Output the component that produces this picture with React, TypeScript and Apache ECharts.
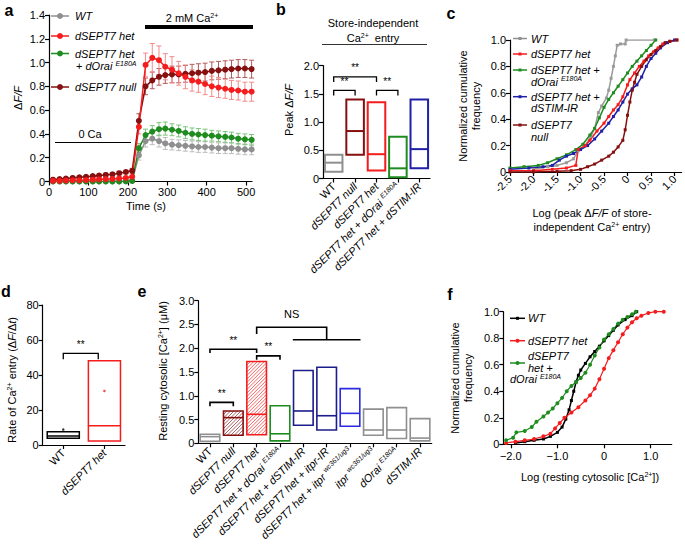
import React, { useEffect, useRef } from 'react';
import * as echarts from 'echarts';

const FONT = '"Liberation Sans", Arial, Helvetica, sans-serif';
const GRAY = '#8f8f8f';
const RED = '#f41c1c';
const DKRED = '#851010';
const GREEN = '#1e8c1e';
const BLUE = '#2020a8';
const NAVY = '#1c1c8c';
const BLUE2 = '#2a2ae0';

// ---------- panel a ----------
const TIME_S = [10, 27, 43, 60, 77, 94, 111, 127, 144, 161, 178, 195, 211, 228, 245, 262, 279, 295, 312, 329, 346, 363, 379, 396, 413, 430, 447, 463, 480, 497, 514];
const A_WT = [0, 0, 0, 0, 0, 0, 0, 0, 0, 0, 0, 0, 0.005, 0.22, 0.34, 0.36, 0.34, 0.32, 0.31, 0.305, 0.3, 0.295, 0.29, 0.29, 0.285, 0.28, 0.28, 0.28, 0.275, 0.27, 0.27];
const A_WT_ERR = [0.005, 0.005, 0.005, 0.005, 0.005, 0.005, 0.005, 0.005, 0.005, 0.005, 0.005, 0.005, 0.005, 0.04, 0.05, 0.05, 0.05, 0.05, 0.045, 0.045, 0.045, 0.045, 0.045, 0.045, 0.045, 0.045, 0.045, 0.045, 0.045, 0.045, 0.045];
const A_HET = [0.005, 0.005, 0.008, 0.01, 0.01, 0.012, 0.015, 0.018, 0.02, 0.022, 0.026, 0.03, 0.04, 0.46, 0.98, 1.04, 1.02, 0.965, 0.94, 0.91, 0.88, 0.85, 0.84, 0.82, 0.8, 0.79, 0.78, 0.77, 0.765, 0.755, 0.755];
const A_HET_ERR = [0.01, 0.01, 0.01, 0.01, 0.01, 0.01, 0.01, 0.01, 0.01, 0.01, 0.01, 0.01, 0.01, 0.06, 0.1, 0.12, 0.12, 0.11, 0.11, 0.1, 0.1, 0.09, 0.09, 0.09, 0.085, 0.085, 0.08, 0.08, 0.08, 0.08, 0.08];
const A_ORAI = [0, 0, 0, 0, 0, 0, 0, 0, 0, 0, 0, 0.002, 0.005, 0.28, 0.39, 0.42, 0.44, 0.445, 0.435, 0.425, 0.41, 0.4, 0.395, 0.39, 0.385, 0.38, 0.375, 0.37, 0.36, 0.355, 0.35];
const A_ORAI_ERR = [0.005, 0.005, 0.005, 0.005, 0.005, 0.005, 0.005, 0.005, 0.005, 0.005, 0.005, 0.005, 0.005, 0.04, 0.05, 0.05, 0.055, 0.055, 0.05, 0.05, 0.05, 0.05, 0.05, 0.05, 0.045, 0.045, 0.045, 0.045, 0.045, 0.045, 0.045];
const A_NULL = [0.015, 0.02, 0.025, 0.03, 0.035, 0.04, 0.045, 0.05, 0.055, 0.06, 0.07, 0.08, 0.09, 0.51, 0.8, 0.85, 0.88, 0.895, 0.9, 0.9, 0.905, 0.91, 0.915, 0.92, 0.93, 0.935, 0.94, 0.945, 0.95, 0.95, 0.945];
const A_NULL_ERR = [0.01, 0.01, 0.01, 0.01, 0.01, 0.012, 0.012, 0.012, 0.015, 0.015, 0.015, 0.015, 0.02, 0.06, 0.07, 0.07, 0.07, 0.07, 0.07, 0.07, 0.07, 0.075, 0.075, 0.075, 0.075, 0.075, 0.075, 0.075, 0.075, 0.075, 0.075];

// ---------- panel b ----------
const B_CATS = ['WT', 'dSEPT7 null', 'dSEPT7 het', 'dSEPT7 het + dOrai E180A', 'dSEPT7 het + dSTIM-IR'];
const B_MIN = [0.12, 0.42, 0.14, 0.02, 0.18];
const B_MED = [0.28, 0.84, 0.43, 0.18, 0.52];
const B_MAX = [0.42, 1.4, 1.35, 0.74, 1.4];
const B_COLORS = [GRAY, DKRED, RED, GREEN, BLUE];
const B_BRACKETS = [[0, 1, 1.56, 1.47, 1.47], [0, 2, 1.8, 1.71, 1.71], [2, 3, 1.56, 1.47, 1.47]];
const B_BRACKET_LABELS = ['**', '**', '**'];

// ---------- panel c ----------
const C_WT = [[-2.0, 0.02], [-1.7, 0.04], [-1.5, 0.05], [-1.3, 0.07], [-1.15, 0.1], [-1.05, 0.16], [-0.9, 0.2], [-0.78, 0.27], [-0.7, 0.33], [-0.62, 0.45], [-0.55, 0.5], [-0.45, 0.56], [-0.4, 0.62], [-0.35, 0.71], [-0.3, 0.8], [-0.26, 0.88], [-0.22, 0.96], [-0.15, 0.97], [-0.05, 0.97], [-0.03, 1.0], [0.57, 1.0]];
const C_HET = [[-2.5, 0.01], [-2.0, 0.01], [-1.6, 0.02], [-1.3, 0.03], [-1.1, 0.05], [-1.05, 0.17], [-0.9, 0.2], [-0.8, 0.24], [-0.65, 0.31], [-0.5, 0.37], [-0.4, 0.42], [-0.3, 0.47], [-0.2, 0.51], [-0.1, 0.57], [0.0, 0.66], [0.05, 0.7], [0.15, 0.75], [0.25, 0.8], [0.35, 0.84], [0.45, 0.88], [0.55, 0.91], [0.65, 0.94], [0.75, 0.97], [0.9, 0.99], [1.05, 1.0]];
const C_ORAI = [[-2.5, 0.03], [-2.2, 0.04], [-1.9, 0.05], [-1.7, 0.07], [-1.5, 0.1], [-1.3, 0.13], [-1.1, 0.17], [-0.95, 0.21], [-0.8, 0.28], [-0.7, 0.33], [-0.6, 0.41], [-0.5, 0.49], [-0.4, 0.55], [-0.3, 0.6], [-0.2, 0.65], [-0.1, 0.7], [0.0, 0.75], [0.1, 0.8], [0.2, 0.84], [0.3, 0.88], [0.4, 0.92], [0.5, 0.96], [0.6, 1.0]];
const C_STIM = [[-2.5, 0.02], [-2.1, 0.03], [-1.8, 0.04], [-1.6, 0.05], [-1.45, 0.09], [-1.3, 0.12], [-1.15, 0.14], [-1.0, 0.17], [-0.85, 0.2], [-0.7, 0.25], [-0.55, 0.31], [-0.4, 0.37], [-0.3, 0.42], [-0.2, 0.47], [-0.1, 0.53], [0.0, 0.59], [0.1, 0.63], [0.2, 0.66], [0.3, 0.72], [0.4, 0.8], [0.5, 0.86], [0.6, 0.9], [0.7, 0.94], [0.85, 0.98], [1.0, 1.0]];
const C_NULL = [[-2.5, 0.0], [-2.0, 0.0], [-1.5, 0.005], [-1.2, 0.01], [-1.0, 0.02], [-0.85, 0.04], [-0.7, 0.06], [-0.55, 0.09], [-0.4, 0.12], [-0.3, 0.15], [-0.2, 0.19], [-0.1, 0.24], [-0.05, 0.32], [0.0, 0.43], [0.05, 0.53], [0.1, 0.62], [0.15, 0.68], [0.2, 0.74], [0.3, 0.8], [0.4, 0.85], [0.5, 0.89], [0.6, 0.92], [0.7, 0.95], [0.8, 0.98], [0.9, 0.99], [1.05, 1.0]];

// ---------- panel d ----------
const D_CATS = ['WT', 'dSEPT7 het'];
const D_MIN = [3.8, 2.3];
const D_MED = [5.1, 11];
const D_MAX = [7.6, 48.2];
const D_MEAN = [8.8, 30.9];
const D_COLORS = ['#000000', RED];
const D_BRACKETS = [[0, 0.85, 52.4, 49, 49]];
const D_BRACKET_LABELS = ['**'];

// ---------- panel e ----------
const E_CATS = ['WT', 'dSEPT7 null', 'dSEPT7 het', 'dSEPT7 het + dOrai E180A', 'dSEPT7 het + dSTIM-IR', 'dSEPT7 het + itpr-IR', 'dSEPT7 het + itpr wc361/ug3', 'itpr wc361/ug3', 'dOrai E180A', 'dSTIM-IR'];
const E_MIN = [0.04, 0.17, 0.18, 0.05, 0.38, 0.28, 0.36, 0.17, 0.1, 0.05];
const E_MED = [0.14, 0.54, 0.61, 0.2, 0.68, 0.58, 0.63, 0.28, 0.28, 0.11];
const E_MAX = [0.19, 0.68, 1.72, 0.79, 1.53, 1.6, 1.15, 0.72, 0.75, 0.52];
const E_COLORS = [GRAY, DKRED, RED, GREEN, NAVY, NAVY, BLUE2, GRAY, GRAY, GRAY];
const E_HATCH = [false, true, true, false, false, false, false, false, false, false];
const E_BRACKETS = [[0, 1, 0.86, 0.78, 0.78], [0, 2, 1.98, 1.9, 1.9], [2, 3, 1.84, 1.76, 1.76], [2, 5, 2.44, 2.3, 2.18], [3.55, 6.45, 2.18, 2.18, 2.18]];
const E_BRACKET_LABELS = ['**', '**', '**', 'NS', ''];

// ---------- panel f ----------
const F_WT = [[-1.9, 0.01], [-1.7, 0.02], [-1.5, 0.03], [-1.3, 0.04], [-1.15, 0.06], [-1.0, 0.09], [-0.9, 0.13], [-0.82, 0.19], [-0.75, 0.26], [-0.7, 0.33], [-0.65, 0.4], [-0.6, 0.47], [-0.55, 0.52], [-0.5, 0.56], [-0.4, 0.61], [-0.3, 0.66], [-0.2, 0.7], [-0.1, 0.74], [0.0, 0.78], [0.1, 0.82], [0.2, 0.86], [0.3, 0.9], [0.45, 0.94], [0.6, 0.97], [0.7, 1.0]];
const F_HET = [[-2.1, 0.01], [-1.9, 0.02], [-1.7, 0.03], [-1.5, 0.04], [-1.3, 0.06], [-1.15, 0.08], [-1.05, 0.12], [-0.95, 0.16], [-0.85, 0.2], [-0.7, 0.24], [-0.55, 0.28], [-0.4, 0.33], [-0.3, 0.37], [-0.2, 0.42], [-0.1, 0.49], [0.0, 0.57], [0.1, 0.65], [0.2, 0.71], [0.3, 0.77], [0.4, 0.83], [0.5, 0.88], [0.6, 0.92], [0.7, 0.95], [0.8, 0.97], [0.95, 0.99], [1.1, 1.0], [1.28, 1.0]];
const F_ORAI = [[-2.1, 0.03], [-1.95, 0.05], [-1.88, 0.09], [-1.7, 0.1], [-1.55, 0.13], [-1.45, 0.17], [-1.3, 0.21], [-1.2, 0.24], [-1.1, 0.27], [-1.0, 0.31], [-0.9, 0.35], [-0.8, 0.4], [-0.7, 0.44], [-0.6, 0.47], [-0.5, 0.5], [-0.4, 0.54], [-0.3, 0.6], [-0.2, 0.67], [-0.1, 0.73], [0.0, 0.79], [0.1, 0.83], [0.2, 0.87], [0.3, 0.91], [0.4, 0.94], [0.5, 0.96], [0.6, 0.98], [0.68, 1.0]];

// ---------- helpers ----------
const RICH: any = {
  n: { fontFamily: FONT, fontSize: 11, color: '#000', lineHeight: 13 },
  i: { fontFamily: FONT, fontSize: 11, fontStyle: 'italic', color: '#000', lineHeight: 13 },
  s: { fontFamily: FONT, fontSize: 7, fontStyle: 'italic', color: '#000', verticalAlign: 'top' },
  u: { fontFamily: FONT, fontSize: 7, color: '#000', verticalAlign: 'top' },
  b: { fontFamily: FONT, fontSize: 16, fontWeight: 'bold', color: '#000' },
};

function catRich(label: string) {
  if (label === 'WT') return '{n|WT}';
  const m = label.match(/^(.*?)\s(E180A|wc361\/ug3)$/);
  if (m) return `{i|${m[1]} }{s|${m[2]}}`;
  return `{i|${label}}`;
}

const fmt1 = (v: number) => (v === 0 ? '0' : v.toFixed(1));

const axisLine = { show: true, onZero: false, lineStyle: { color: '#000', width: 1.2 } };
const axisTick = { show: true, length: 4, lineStyle: { color: '#000', width: 1.2 } };
const labelBase = { color: '#000', fontSize: 11, fontFamily: FONT, margin: 4 };

function valueY(grid: number, max: number, interval: number, fmt: any) {
  return {
    type: 'value', gridIndex: grid, min: 0, max, interval,
    axisLine, axisTick, splitLine: { show: false },
    axisLabel: { ...labelBase, formatter: fmt },
  };
}

function catX(grid: number, cats: string[]) {
  return {
    type: 'category', gridIndex: grid, data: cats,
    axisLine, axisTick: { ...axisTick, alignWithLabel: true },
    splitLine: { show: false },
    axisLabel: { ...labelBase, rotate: 45, interval: 0, margin: 6, formatter: (v: string) => catRich(v), rich: RICH },
  };
}

function lineSeries(x: number, y: number, data: any[], color: string, symbol: string, size: number, width: number) {
  return {
    type: 'line', xAxisIndex: x, yAxisIndex: y, data,
    symbol, symbolSize: size, showSymbol: true, showAllSymbol: true,
    lineStyle: { color, width }, itemStyle: { color, borderWidth: 0 },
    emphasis: { disabled: true }, silent: true,
  };
}

function errSeries(vals: number[], errs: number[], color: string) {
  return {
    type: 'custom', xAxisIndex: 0, yAxisIndex: 0, silent: true,
    data: TIME_S.map((t, i) => [t, vals[i] - errs[i], vals[i] + errs[i]]),
    encode: { x: 0, y: [1, 2] },
    renderItem: (params: any, api: any) => {
      const lo = api.coord([api.value(0), api.value(1)]);
      const hi = api.coord([api.value(0), api.value(2)]);
      const c = 2.5;
      const st = { stroke: color, lineWidth: 1 };
      return {
        type: 'group', children: [
          { type: 'line', shape: { x1: lo[0], y1: lo[1], x2: hi[0], y2: hi[1] }, style: st },
          { type: 'line', shape: { x1: lo[0] - c, y1: lo[1], x2: lo[0] + c, y2: lo[1] }, style: st },
          { type: 'line', shape: { x1: hi[0] - c, y1: hi[1], x2: hi[0] + c, y2: hi[1] }, style: st },
        ],
      };
    },
  };
}

function boxSeries(axis: number, mins: number[], meds: number[], maxs: number[], colors: string[], frac: number, lw: number, hatch?: boolean[]) {
  return {
    type: 'custom', xAxisIndex: axis, yAxisIndex: axis, silent: true,
    data: mins.map((m, i) => [i, m, meds[i], maxs[i]]),
    encode: { x: 0, y: [1, 2, 3] },
    renderItem: (params: any, api: any) => {
      const i = api.value(0);
      const lo = api.coord([i, api.value(1)]);
      const md = api.coord([i, api.value(2)]);
      const hi = api.coord([i, api.value(3)]);
      const w = api.size([1, 0])[0] * frac;
      const x0 = lo[0] - w / 2;
      const color = colors[params.dataIndex];
      const children: any[] = [];
      const h = lo[1] - hi[1];
      if (hatch && hatch[params.dataIndex]) {
        const sp = 3.5;
        for (let c = -h; c < w; c += sp) {
          const u1 = Math.max(0, c);
          const u2 = Math.min(w, h + c);
          if (u2 <= u1) continue;
          children.push({
            type: 'line',
            shape: { x1: x0 + u1, y1: lo[1] - (u1 - c), x2: x0 + u2, y2: lo[1] - (u2 - c) },
            style: { stroke: color, lineWidth: 0.8, opacity: 0.85 },
          });
        }
      }
      children.push({ type: 'rect', shape: { x: x0, y: hi[1], width: w, height: h }, style: { fill: 'none', stroke: color, lineWidth: lw } });
      children.push({ type: 'line', shape: { x1: x0, y1: md[1], x2: x0 + w, y2: md[1] }, style: { stroke: color, lineWidth: lw } });
      return { type: 'group', children };
    },
  };
}

function bracketSeries(axis: number, rows: number[][], labels: string[], lw: number) {
  return {
    type: 'custom', xAxisIndex: axis, yAxisIndex: axis, silent: true,
    data: rows,
    encode: { x: [0, 1], y: [2, 3, 4] },
    renderItem: (params: any, api: any) => {
      const p0 = api.coord([0, api.value(2)]);
      const p1 = api.coord([1, api.value(2)]);
      const step = p1[0] - p0[0];
      const X1 = p0[0] + api.value(0) * step;
      const X2 = p0[0] + api.value(1) * step;
      const yT = p0[1];
      const yL = api.coord([0, api.value(3)])[1];
      const yR = api.coord([0, api.value(4)])[1];
      const st = { stroke: '#000', lineWidth: lw };
      const label = labels[params.dataIndex];
      const children: any[] = [
        { type: 'polyline', shape: { points: [[X1, yL], [X1, yT], [X2, yT], [X2, yR]] }, style: { ...st, fill: 'none' } },
      ];
      if (label) {
        children.push({
          type: 'text', x: (X1 + X2) / 2, y: yT - (label === 'NS' ? 8 : 4),
          style: { text: label, fill: '#000', fontFamily: FONT, fontSize: label === 'NS' ? 11 : 10, align: 'center', verticalAlign: 'bottom' },
        });
      }
      return { type: 'group', children };
    },
  };
}

// graphic helpers
function txt(x: number, y: number, text: string, opt: any = {}) {
  return {
    type: 'text', x, y, rotation: opt.rot || 0, silent: true,
    style: {
      text, fill: '#000', fontFamily: FONT, fontSize: opt.size || 11,
      fontStyle: opt.italic ? 'italic' : 'normal', fontWeight: opt.bold ? 'bold' : 'normal',
      align: opt.align || 'center', verticalAlign: 'middle', rich: RICH,
    },
  };
}
function legSym(x1: number, x2: number, y: number, color: string, kind: string, size: number) {
  const els: any[] = [{ type: 'line', silent: true, shape: { x1, y1: y, x2, y2: y }, style: { stroke: color, lineWidth: 1.5 } }];
  const cx = (x1 + x2) / 2;
  if (kind === 'circle') els.push({ type: 'circle', silent: true, shape: { cx, cy: y, r: size / 2 }, style: { fill: color } });
  else els.push({ type: 'rect', silent: true, shape: { x: cx - size / 2, y: y - size / 2, width: size, height: size }, style: { fill: color } });
  return els;
}

function buildOption(): any {
  const graphic: any[] = [
    // panel letters
    txt(9, 10, 'a', { bold: true, size: 16 }),
    txt(281, 9, 'b', { bold: true, size: 16 }),
    txt(451, 13, 'c', { bold: true, size: 16 }),
    txt(6, 291, 'd', { bold: true, size: 16 }),
    txt(142, 291, 'e', { bold: true, size: 16 }),
    txt(450, 294, 'f', { bold: true, size: 16 }),
    // panel a annotations
    txt(192, 18, '{n|2 mM Ca}{u|2+}'),
    { type: 'rect', silent: true, shape: { x: 145, y: 25, width: 108, height: 4 }, style: { fill: '#000' } },
    txt(90, 134, '0 Ca'),
    { type: 'line', silent: true, shape: { x1: 55, y1: 142.5, x2: 131, y2: 142.5 }, style: { stroke: '#000', lineWidth: 1 } },
    // a legend
    ...legSym(51, 69, 16, GRAY, 'circle', 6),
    txt(75, 16, '{i|WT}', { align: 'left' }),
    ...legSym(51, 69, 36, RED, 'circle', 6),
    txt(75, 36, '{i|dSEPT7 het}', { align: 'left' }),
    ...legSym(51, 69, 53.5, GREEN, 'circle', 6),
    txt(75, 53.5, '{i|dSEPT7 het}', { align: 'left' }),
    txt(76, 66, '{n|+ }{i|dOrai }{s|E180A}', { align: 'left' }),
    ...legSym(51, 69, 87, DKRED, 'circle', 6),
    txt(75, 87, '{i|dSEPT7 null}', { align: 'left' }),
    // a axis titles
    txt(18, 98, '{n|Δ}{i|F/F}', { rot: Math.PI / 2 }),
    txt(146, 206, 'Time (s)'),
    // panel b titles
    txt(373, 23, 'Store-independent'),
    txt(373, 38, '{n|Ca}{u|2+}{n|  entry}'),
    { type: 'line', silent: true, shape: { x1: 322, y1: 44.5, x2: 427, y2: 44.5 }, style: { stroke: '#333', lineWidth: 1.2 } },
    txt(289, 110, '{n|Peak Δ}{i|F/F}', { rot: Math.PI / 2 }),
    // panel c legend
    ...legSym(513, 527, 38.5, GRAY, 'rect', 3),
    txt(531, 38.5, '{i|WT}', { align: 'left' }),
    ...legSym(513, 527, 54, RED, 'rect', 3),
    txt(531, 54, '{i|dSEPT7 het}', { align: 'left' }),
    ...legSym(513, 527, 70, GREEN, 'rect', 3),
    txt(531, 70, '{i|dSEPT7 het +}', { align: 'left' }),
    txt(531, 81.7, '{i|dOrai }{s|E180A}', { align: 'left' }),
    ...legSym(513, 527, 96.7, BLUE, 'rect', 3),
    txt(531, 96.7, '{i|dSEPT7 het +}', { align: 'left' }),
    txt(531, 108.3, '{i|dSTIM-IR}', { align: 'left' }),
    ...legSym(513, 527, 125, DKRED, 'rect', 3),
    txt(531, 125, '{i|dSEPT7}', { align: 'left' }),
    txt(531, 137.3, '{i|null}', { align: 'left' }),
    // c axis titles
    txt(463, 106, 'Normalized cumulative', { rot: Math.PI / 2 }),
    txt(476, 106, 'frequency', { rot: Math.PI / 2 }),
    txt(592, 213, '{n|Log (peak Δ}{i|F/F}{n| of store-}'),
    txt(592, 227, '{n|independent Ca}{u|2+}{n| entry)}'),
    // panel d
    txt(12, 380, '{n|Rate of Ca}{u|2+}{n| entry (Δ}{i|F}{n|/Δ}{i|t}{n|)}', { rot: Math.PI / 2 }),
    // panel e
    txt(163, 371, '{n|Resting cytosolic [Ca}{u|2+}{n|] (μM)}', { rot: Math.PI / 2 }),
    // panel f legend
    ...legSym(510, 525, 318.3, '#000', 'rect', 3),
    txt(528, 318.3, '{i|WT}', { align: 'left' }),
    ...legSym(510, 525, 340.7, RED, 'circle', 4),
    txt(528, 340.7, '{i|dSEPT7 het}', { align: 'left' }),
    ...legSym(510, 525, 363, GREEN, 'circle', 4),
    txt(528, 356, '{i|dSEPT7}', { align: 'left' }),
    txt(528, 367.5, '{i|het +}', { align: 'left' }),
    txt(510, 379, '{i|dOrai }{s|E180A}', { align: 'left' }),
    // f axis titles
    txt(455, 378, 'Normalized cumulative', { rot: Math.PI / 2 }),
    txt(468, 378, 'frequency', { rot: Math.PI / 2 }),
    txt(590, 477, '{n|Log (resting cytosolic [Ca}{u|2+}{n|])}'),
  ];

  const xy = (arr: number[]) => TIME_S.map((t, i) => [t, arr[i]]);

  return {
    animation: false,
    backgroundColor: '#ffffff',
    textStyle: { fontFamily: FONT },
    grid: [
      { left: 49, top: 15, width: 203, height: 166.5, outerBoundsMode: 'none' },
      { left: 323, top: 65.5, width: 107, height: 113, outerBoundsMode: 'none' },
      { left: 510, top: 40, width: 171.6, height: 132, outerBoundsMode: 'none' },
      { left: 42.7, top: 305, width: 82.3, height: 140, outerBoundsMode: 'none' },
      { left: 198.3, top: 300.7, width: 233.4, height: 142.6, outerBoundsMode: 'none' },
      { left: 503.3, top: 311.7, width: 168.4, height: 132.6, outerBoundsMode: 'none' },
    ],
    xAxis: [
      {
        type: 'value', gridIndex: 0, min: 0, max: 515, interval: 100,
        axisLine, axisTick, splitLine: { show: false },
        axisLabel: { ...labelBase, showMaxLabel: false, margin: 5 },
      },
      catX(1, B_CATS),
      {
        type: 'value', gridIndex: 2, min: -2.5, max: 1.15, interval: 0.5,
        axisLine, axisTick, splitLine: { show: false },
        axisLabel: { ...labelBase, rotate: 45, margin: 5, showMaxLabel: false, formatter: fmt1 },
      },
      catX(3, D_CATS),
      catX(4, E_CATS),
      {
        type: 'value', gridIndex: 5, min: -2.16, max: 1.45, splitNumber: 4,
        axisLine, axisTick, splitLine: { show: false },
        axisLabel: {
          ...labelBase, margin: 6, showMinLabel: false, showMaxLabel: false,
          formatter: (v: number) => (Math.abs(v - Math.round(v)) < 1e-6 ? (v === 0 ? '0' : (v < 0 ? '\u2212' : '') + Math.abs(v).toFixed(1)) : ''),
        },
      },
    ],
    yAxis: [
      valueY(0, 1.4, 0.2, fmt1),
      valueY(1, 2, 0.5, fmt1),
      valueY(2, 1, 0.2, fmt1),
      valueY(3, 80, 20, (v: number) => String(v)),
      valueY(4, 3, 0.5, fmt1),
      valueY(5, 1, 0.2, fmt1),
    ],
    series: [
      // a
      errSeries(A_WT, A_WT_ERR, '#bdbdbd'),
      lineSeries(0, 0, xy(A_WT), GRAY, 'circle', 6, 1.5),
      errSeries(A_ORAI, A_ORAI_ERR, '#7cc47c'),
      lineSeries(0, 0, xy(A_ORAI), GREEN, 'circle', 6, 1.5),
      errSeries(A_NULL, A_NULL_ERR, '#b35a5a'),
      lineSeries(0, 0, xy(A_NULL), DKRED, 'circle', 6, 1.5),
      errSeries(A_HET, A_HET_ERR, '#f58a8a'),
      lineSeries(0, 0, xy(A_HET), RED, 'circle', 6, 1.5),
      // b
      boxSeries(1, B_MIN, B_MED, B_MAX, B_COLORS, 0.82, 2),
      bracketSeries(1, B_BRACKETS, B_BRACKET_LABELS, 1.3),
      // c
      lineSeries(2, 2, C_WT, '#9a9a9a', 'rect', 3, 1.5),
      lineSeries(2, 2, C_ORAI, GREEN, 'rect', 3, 1.5),
      lineSeries(2, 2, C_STIM, BLUE, 'rect', 3, 1.5),
      lineSeries(2, 2, C_HET, RED, 'rect', 3, 1.5),
      lineSeries(2, 2, C_NULL, DKRED, 'rect', 3, 1.5),
      // d
      boxSeries(3, D_MIN, D_MED, D_MAX, D_COLORS, 0.78, 1.5),
      {
        type: 'scatter', xAxisIndex: 3, yAxisIndex: 3, silent: true,
        data: D_MEAN.map((m, i) => ({ value: [i, m], itemStyle: { color: D_COLORS[i] } })),
        symbol: 'circle', symbolSize: 2.5,
      },
      bracketSeries(3, D_BRACKETS, D_BRACKET_LABELS, 1.3),
      // e
      boxSeries(4, E_MIN, E_MED, E_MAX, E_COLORS, 0.84, 1.6, E_HATCH),
      bracketSeries(4, E_BRACKETS, E_BRACKET_LABELS, 1.6),
      // f
      lineSeries(5, 5, F_WT, '#000000', 'rect', 3, 1.5),
      lineSeries(5, 5, F_HET, RED, 'circle', 4, 1.2),
      lineSeries(5, 5, F_ORAI, GREEN, 'circle', 4, 1.2),
    ],
    graphic,
  };
}

export default function App() {
  const ref = useRef<HTMLDivElement>(null);
  useEffect(() => {
    const chart = echarts.init(ref.current as HTMLDivElement, null, { renderer: 'svg' });
    chart.setOption(buildOption());
    return () => chart.dispose();
  }, []);
  return (
    <div
      ref={ref}
      style={{ position: 'absolute', left: 0, top: 0, width: 685, height: 551, background: '#fff' }}
    />
  );
}
